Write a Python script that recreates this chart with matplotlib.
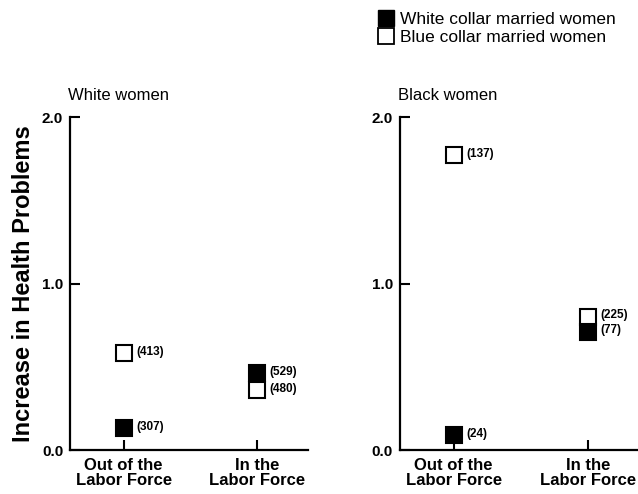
import matplotlib
matplotlib.use('Agg')
import matplotlib.pyplot as plt
from matplotlib.lines import Line2D

plt.rcParams['font.family'] = ['Liberation Sans', 'DejaVu Sans']

categories = ['Out of the\nLabor Force', 'In the\nLabor Force']
panel_titles = ['White women', 'Black women']

# increase in health problems, per panel: [out, in]
white_collar = [[0.13, 0.46], [0.09, 0.71]]
blue_collar = [[0.58, 0.36], [1.77, 0.80]]
white_collar_n = [['(307)', '(529)'], ['(24)', '(77)']]
blue_collar_n = [['(413)', '(480)'], ['(137)', '(225)']]

fig = plt.figure(figsize=(6.38, 4.94), dpi=100)
axes = [fig.add_axes([0.110, 0.089, 0.372, 0.674]),
        fig.add_axes([0.627, 0.089, 0.373, 0.674])]

for i, ax in enumerate(axes):
    xs = range(len(categories))
    # open squares (blue collar)
    ax.plot(xs, blue_collar[i], linestyle='none', marker='s', markersize=11,
            markerfacecolor='white', markeredgecolor='black', markeredgewidth=1.5, zorder=3)
    # filled squares (white collar)
    ax.plot(xs, white_collar[i], linestyle='none', marker='s', markersize=11,
            markerfacecolor='black', markeredgecolor='black', markeredgewidth=1.5, zorder=4)
    for x in xs:
        ax.annotate(blue_collar_n[i][x], (x, blue_collar[i][x]), xytext=(9, 1),
                    textcoords='offset points', va='center', ha='left',
                    fontsize=8.5, fontweight='bold')
        ax.annotate(white_collar_n[i][x], (x, white_collar[i][x]), xytext=(9, 1),
                    textcoords='offset points', va='center', ha='left',
                    fontsize=8.5, fontweight='bold')

    ax.set_xlim(-0.4, 1.375)
    ax.set_ylim(0, 2)
    ax.set_xticks(list(xs))
    ax.set_xticklabels(categories, fontsize=12, fontweight='bold', linespacing=1.0)
    ax.set_yticks([0, 1, 2])
    ax.set_yticklabels(['0.0', '1.0', '2.0'], fontsize=11, fontweight='bold')
    ax.tick_params(axis='both', direction='in', length=7, width=1.5)
    ax.tick_params(axis='y', pad=5)
    ax.tick_params(axis='x', pad=6)
    for s in ['top', 'right']:
        ax.spines[s].set_visible(False)
    for s in ['left', 'bottom']:
        ax.spines[s].set_linewidth(1.6)
    ax.set_title(panel_titles[i], loc='left', fontsize=12, x=-0.01, pad=12)

axes[0].set_ylabel('Increase in Health Problems', fontsize=17, fontweight='bold', labelpad=5)

handles = [Line2D([], [], linestyle='none', marker='s', markersize=11,
                  markerfacecolor='black', markeredgecolor='black'),
           Line2D([], [], linestyle='none', marker='s', markersize=11,
                  markerfacecolor='white', markeredgecolor='black', markeredgewidth=1.3)]
fig.legend(handles, ['White collar married women', 'Blue collar married women'],
           loc='upper left', bbox_to_anchor=(0.575, 1.0), frameon=False,
           fontsize=12.5, handlelength=0.8, handletextpad=0.4, labelspacing=0.15,
           borderpad=0.2)

fig.savefig('out.png', dpi=100)
